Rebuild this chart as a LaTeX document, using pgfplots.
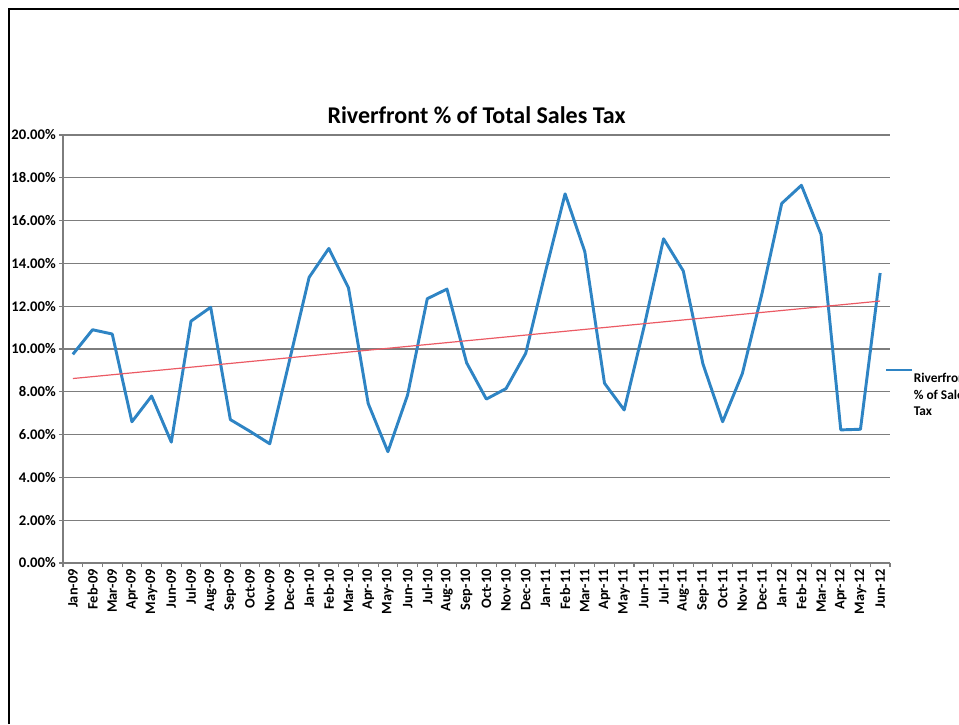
\documentclass[border=0pt]{standalone}
\usepackage{pgfplots}
\pgfplotsset{compat=1.18}
\usepackage{fontspec}
\setmainfont{Carlito}
\definecolor{lineblue}{RGB}{46,132,196}
\definecolor{trendred}{RGB}{235,90,100}
\definecolor{gridgray}{RGB}{125,125,125}
\begin{document}
\begin{tikzpicture}[x=0.75pt,y=0.75pt]
\begin{axis}[
  at={(47.25pt,120.75pt)}, anchor=south west,
  scale only axis, width=620.25pt, height=321pt,
  xmin=-0.5, xmax=41.5, ymin=0, ymax=20,
  axis x line*=bottom, axis y line*=left,
  axis line style={gridgray, line width=0.9pt},
  /pgf/number format/assume math mode=true,
  ytick={0,2,...,20},
  yticklabel={\pgfmathprintnumber[fixed,fixed zerofill,precision=2]{\tick}\%},
  yticklabel style={font=\fontsize{11}{12}\selectfont\bfseries, inner sep=2.2pt},
  ymajorgrids, grid style={gridgray, line width=0.9pt},
  tick align=outside, major tick length=3pt, minor tick length=3pt,
  tick style={gridgray, line width=0.8pt},
  xtick={0,...,41},
  major x tick style={draw=none},
  minor xtick={-0.5,0.5,...,41.5},
  xticklabels={Jan-09,Feb-09,Mar-09,Apr-09,May-09,Jun-09,Jul-09,Aug-09,Sep-09,Oct-09,Nov-09,Dec-09,
    Jan-10,Feb-10,Mar-10,Apr-10,May-10,Jun-10,Jul-10,Aug-10,Sep-10,Oct-10,Nov-10,Dec-10,
    Jan-11,Feb-11,Mar-11,Apr-11,May-11,Jun-11,Jul-11,Aug-11,Sep-11,Oct-11,Nov-11,Dec-11,
    Jan-12,Feb-12,Mar-12,Apr-12,May-12,Jun-12},
  xticklabel style={rotate=90, anchor=east, inner sep=1.5pt, font=\fontsize{10.8}{12}\selectfont\bfseries},
  title={Riverfront \% of Total Sales Tax},
  title style={font=\fontsize{18}{20}\selectfont\bfseries, at={(0.5,1)}, anchor=base, yshift=2.5pt},
  legend style={draw=none, fill=none, at={(0.9935,0.455)}, anchor=north west,
    inner sep=0pt, nodes={inner sep=0pt}, column sep=0.5pt,
    font=\fontsize{10}{12.5}\selectfont\bfseries},
  legend cell align=left,
  legend image code/.code={\path[draw=none] (0pt,-12.5pt) -- (0pt,12.5pt); \draw[#1] (0pt,12.5pt) -- (19pt,12.5pt);},
]
\addplot[lineblue, line width=2.2pt, line join=round] coordinates {
(0,9.75) (1,10.9) (2,10.7) (3,6.6) (4,7.8) (5,5.65) (6,11.3) (7,11.95) (8,6.7) (9,6.15) (10,5.57) (11,9.45)
(12,13.35) (13,14.7) (14,12.85) (15,7.45) (16,5.2) (17,7.85) (18,12.35) (19,12.8) (20,9.35) (21,7.66) (22,8.15) (23,9.8)
(24,13.6) (25,17.25) (26,14.55) (27,8.4) (28,7.15) (29,11.0) (30,15.15) (31,13.65) (32,9.3) (33,6.6) (34,8.85) (35,12.6)
(36,16.8) (37,17.65) (38,15.35) (39,6.22) (40,6.25) (41,13.55)
};
\addlegendentry{\parbox{60pt}{Riverfront\\\% of Sales\\Tax}}
\addplot[trendred, line width=0.9pt, forget plot] coordinates {(0,8.62) (41,12.24)};
\end{axis}
\draw[line width=2.2pt] (9,0) -- (9,715) -- (959,715);
\pgfresetboundingbox
\useasboundingbox (0,0) rectangle (959,724);
\end{tikzpicture}
\end{document}
